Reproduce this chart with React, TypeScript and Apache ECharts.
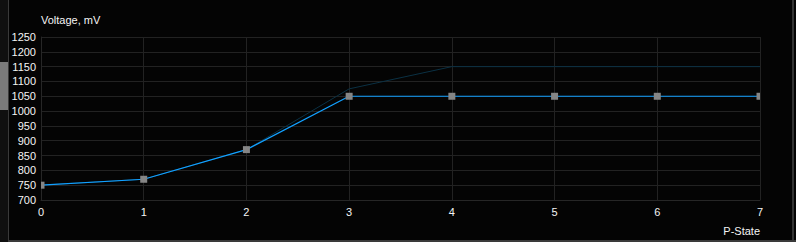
import React, { useEffect, useRef } from "react";
import * as echarts from "echarts";

const pStates = ["0", "1", "2", "3", "4", "5", "6", "7"];
const voltageCurrent = [750, 770, 870, 1050, 1050, 1050, 1050, 1050];
const voltageDefault = [750, 770, 870, 1075, 1150, 1150, 1150, 1150];
const yMin = 700;
const yMax = 1250;
const yStep = 50;

export default function App() {
  const ref = useRef<HTMLDivElement>(null);
  useEffect(() => {
    const chart = echarts.init(ref.current!, null, { renderer: "svg" });
    const font = "Liberation Sans";
    const last = voltageCurrent.length - 1;
    chart.setOption({
      animation: false,
      backgroundColor: "#040404",
      textStyle: { fontFamily: font },
      grid: { left: 41, right: 36, top: 37, bottom: 42 },
      xAxis: {
        type: "value",
        min: 0,
        max: 7,
        interval: 1,
        name: "P-State",
        nameLocation: "end",
        nameGap: 0,
        nameTextStyle: {
          color: "#f4f4f4",
          fontSize: 11,
          fontFamily: font,
          align: "right",
          verticalAlign: "top",
          padding: [25, 0, 0, 0],
        },
        axisLine: { show: true, lineStyle: { color: "#262626", width: 1 } },
        axisTick: { show: false },
        axisLabel: {
          color: "#f4f4f4",
          fontSize: 11,
          fontFamily: font,
          margin: 6,
          formatter: (v: number) => pStates[v] ?? "",
        },
        splitLine: { show: true, lineStyle: { color: "#222222", width: 1 } },
      },
      yAxis: {
        type: "value",
        min: yMin,
        max: yMax,
        interval: yStep,
        name: "Voltage, mV",
        nameLocation: "end",
        nameGap: 12,
        nameTextStyle: {
          color: "#f4f4f4",
          fontSize: 11,
          fontFamily: font,
          align: "left",
          verticalAlign: "bottom",
        },
        axisLine: { show: true, lineStyle: { color: "#262626", width: 1 } },
        axisTick: { show: false },
        axisLabel: {
          color: "#f4f4f4",
          fontSize: 11,
          fontFamily: font,
          margin: 5,
          formatter: (v: number) => String(v),
        },
        splitLine: { show: true, lineStyle: { color: "#222222", width: 1 } },
      },
      series: [
        {
          type: "line",
          data: voltageDefault.map((v, i) => [i, v]),
          showSymbol: false,
          symbol: "none",
          lineStyle: { color: "#0b3144", width: 1 },
          z: 1,
        },
        {
          type: "line",
          data: voltageCurrent.map((v, i) => {
            if (i === 0) return { value: [i, v], symbolSize: [3.5, 7], symbolOffset: [1.75, 0] };
            if (i === last) return { value: [i, v], symbolSize: [3.5, 7], symbolOffset: [-1.75, 0] };
            return [i, v];
          }),
          symbol: "rect",
          symbolSize: 7,
          clip: true,
          itemStyle: { color: "#858585" },
          lineStyle: { color: "#12a0ff", width: 1.2 },
          z: 2,
        },
      ],
      graphic: [
        { type: "rect", shape: { x: 0, y: 0, width: 8, height: 242 }, style: { fill: "#101010" }, silent: true },
        { type: "rect", shape: { x: 0, y: 62, width: 8, height: 48 }, style: { fill: "#7a7a7a" }, silent: true },
        { type: "rect", shape: { x: 8, y: 0, width: 1, height: 240 }, style: { fill: "#3a3a3a" }, silent: true },
        { type: "rect", shape: { x: 8, y: 240, width: 788, height: 2 }, style: { fill: "#3a3a3a" }, silent: true },
        { type: "rect", shape: { x: 792, y: 0, width: 2, height: 240 }, style: { fill: "#333333" }, silent: true },
      ],
    });
    return () => chart.dispose();
  }, []);
  return (
    <div
      ref={ref}
      style={{ position: "fixed", left: 0, top: 0, width: 796, height: 242 }}
    />
  );
}
